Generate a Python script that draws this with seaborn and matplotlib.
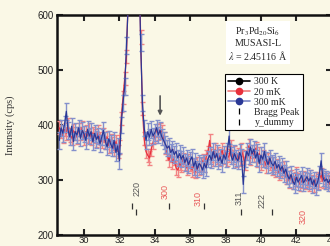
#recreate the Pr3Pd20Si6 MUSASI-L neutron diffraction panel (intensity vs 2theta)
import numpy as np
import pandas as pd
import matplotlib
matplotlib.use("Agg")
import matplotlib.pyplot as plt
import seaborn as sns
from matplotlib.lines import Line2D

#2theta grid of the scan (deg), 0.1 deg steps
two_theta = np.round(np.arange(28.6, 43.95, 0.1), 1)

#300 mK scan (cps)
int_300mK = [
    372, 395, 385, 402, 425, 390, 378, 398, 370, 388,
    382, 395, 376, 390, 384, 372, 392, 380, 388, 369,
    385, 374, 380, 366, 378, 390, 372, 360, 375, 366,
    358, 372, 350, 362, 335, 400, 440, 470, 545, 620,
    850, 1050, 1150, 1080, 900, 700, 550, 440, 395, 372,
    388, 378, 392, 380, 386, 395, 382, 390, 378, 372,
    365, 358, 362, 350, 356, 346, 352, 340, 348, 338,
    345, 332, 340, 328, 336, 342, 325, 334, 320, 330,
    326, 318, 330, 322, 338, 345, 336, 352, 340, 348,
    335, 342, 330, 346, 338, 352, 380, 345, 336, 348,
    340, 335, 350, 342, 292, 338, 352, 344, 360, 348,
    356, 340, 350, 330, 345, 338, 352, 336, 328, 340,
    330, 326, 334, 322, 328, 318, 325, 312, 320, 308,
    302, 310, 298, 292, 305, 296, 302, 308, 295, 300,
    306, 298, 304, 292, 300, 288, 296, 310, 335, 305,
    298, 302, 295, 300,
]

#20 mK scan (cps)
int_20mK = [
    395, 388, 380, 392, 385, 400, 382, 376, 390, 385,
    378, 392, 385, 396, 375, 388, 380, 392, 376, 385,
    380, 372, 388, 375, 370, 382, 368, 378, 362, 372,
    366, 355, 370, 352, 360, 412, 450, 485, 525, 640,
    880, 1080, 1170, 1100, 920, 720, 560, 430, 375, 352,
    345, 340, 356, 368, 380, 390, 385, 392, 388, 376,
    360, 348, 336, 345, 332, 340, 322, 318, 330, 326,
    338, 330, 322, 335, 328, 318, 326, 315, 330, 322,
    328, 335, 326, 342, 350, 372, 345, 338, 355, 342,
    348, 338, 356, 342, 350, 338, 345, 360, 342, 350,
    335, 346, 338, 355, 342, 330, 348, 362, 340, 352,
    345, 358, 336, 348, 330, 342, 335, 325, 338, 330,
    322, 330, 318, 326, 312, 320, 315, 322, 305, 312,
    298, 306, 295, 302, 312, 300, 292, 298, 305, 296,
    300, 292, 306, 298, 290, 302, 295, 300, 310, 298,
    305, 295, 300, 292,
]

#300 K scan, only the ends poke out at the edges of this window
two_theta_300K = [28.3, 28.55, 36.0, 43.92, 44.3]
int_300K = [395, 400, np.nan, 297, 300]

#error bar half widths (cps)
err_300mK = 15
err_20mK = 12
err_300K = 10

#bragg peak markers and their hkl labels
bragg_x = [32.7, 34.8, 36.8]
bragg_y = 253
dummy_x = [32.95, 38.87, 40.62]
dummy_y = 242
hkl_labels = ["220", "300", "310", "311", "222", "320"]
hkl_x = [33.0, 34.6, 36.45, 38.75, 40.05, 42.4]
hkl_y = [285, 280, 266, 268, 263, 234]
hkl_colors = ["#555555", "#e85a5a", "#e85a5a", "#555555", "#555555", "#e85a5a"]

BG = "#faf8e6"

sns.set_theme(style="ticks")
plt.rcParams["font.family"] = ["Liberation Serif", "DejaVu Serif"]
plt.rcParams["mathtext.fontset"] = "stix"

fig = plt.figure(figsize=(3.3, 2.46), dpi=100, facecolor=BG)
ax = fig.add_axes([0.1742, 0.0447, 0.831, 0.894], facecolor=BG)

df_blue = pd.DataFrame({"two_theta": two_theta, "cps": int_300mK})
df_red = pd.DataFrame({"two_theta": two_theta, "cps": int_20mK})

#300 K underneath, plain plot so the NaN gap is kept
ax.errorbar(two_theta_300K, int_300K, yerr=err_300K, fmt="none",
            ecolor="#444444", elinewidth=1.0, capsize=1.8, zorder=2)
ax.plot(two_theta_300K, int_300K, color="black", lw=0.9, marker="o",
        ms=3, mew=0, zorder=2)

#20 mK
ax.errorbar(df_red["two_theta"], df_red["cps"], yerr=err_20mK, fmt="none",
            ecolor="#f28484", elinewidth=1.0, capsize=1.8, zorder=3)
sns.lineplot(data=df_red, x="two_theta", y="cps", ax=ax, color="#e8303c",
             lw=0.9, zorder=3)

#300 mK on top
ax.errorbar(df_blue["two_theta"], df_blue["cps"], yerr=err_300mK, fmt="none",
            ecolor="#8490cc", elinewidth=1.0, capsize=1.8, zorder=4)
sns.lineplot(data=df_blue, x="two_theta", y="cps", ax=ax, color="#2a3896",
             lw=0.9, zorder=4)

#bragg ticks
ax.plot(bragg_x, [bragg_y] * len(bragg_x), ls="none", marker="|", ms=4.5,
        mew=0.9, color="#333333", zorder=2)
ax.plot(dummy_x, [dummy_y] * len(dummy_x), ls="none", marker="|", ms=4.5,
        mew=0.9, color="#333333", zorder=2)
for lab, xx, yy, c in zip(hkl_labels, hkl_x, hkl_y, hkl_colors):
    ax.text(xx, yy, lab, rotation=90, ha="center", va="center", fontsize=6.5,
            color=c, family="Liberation Sans", zorder=1)

#arrow marking the feature near 34.3 deg
ax.annotate("", xy=(34.3, 412), xytext=(34.3, 458),
            arrowprops=dict(arrowstyle="-|>", color="#555555", lw=1.2,
                            mutation_scale=6), zorder=5)

#sample / instrument text box
ax.text(39.83, 548, "Pr$_3$Pd$_{20}$Si$_6$\nMUSASI-L\n$\\lambda$ = 2.45116 Å",
        ha="center", va="center", fontsize=7.2, linespacing=1.15,
        bbox=dict(facecolor="white", edgecolor="none", pad=1.5), zorder=6)

handles = [
    Line2D([0], [0], color="black", lw=1.2, marker="o", ms=4.5),
    Line2D([0], [0], color="#f07a7a", lw=1.2, marker="o", ms=4.5,
           mfc="#e8303c", mec="#e8303c"),
    Line2D([0], [0], color="#7a86c6", lw=1.2, marker="o", ms=4.5,
           mfc="#2a3896", mec="#2a3896"),
    Line2D([0], [0], color="black", ls="none", marker="|", ms=5, mew=0.9),
    Line2D([0], [0], color="black", ls="none", marker="|", ms=5, mew=0.9),
]
leg = ax.legend(handles, ["300 K", "20 mK", "300 mK", "Bragg Peak", "y_dummy"],
                loc="upper left", bbox_to_anchor=(0.612, 0.73), fontsize=7,
                frameon=True, fancybox=False, framealpha=1, edgecolor="black",
                handlelength=2.2, handletextpad=0.5, borderpad=0.3,
                labelspacing=0.12, borderaxespad=0)
leg.get_frame().set_linewidth(0.8)
leg.set_zorder(7)

ax.set_xlim(28.5, 44.0)
ax.set_ylim(200, 600)
ax.set_xticks([30, 32, 34, 36, 38, 40, 42, 44])
ax.set_yticks([200, 300, 400, 500, 600])
ax.tick_params(direction="in", length=4, width=1.5, top=True, right=True,
               labelsize=7, pad=2.5, colors="#222222")
ax.tick_params(axis="x", pad=1.0, labelsize=6.8)
for lab in ax.get_xticklabels() + ax.get_yticklabels():
    lab.set_family("Liberation Sans")
for sp in ax.spines.values():
    sp.set_linewidth(1.8)
    sp.set_color("#111111")

ax.set_xlabel("")
ax.set_ylabel("Intensity (cps)", fontsize=7.5, color="#333333")
ax.yaxis.set_label_coords(-0.155, 0.5)

fig.savefig("out.png", dpi=100, facecolor=BG)
